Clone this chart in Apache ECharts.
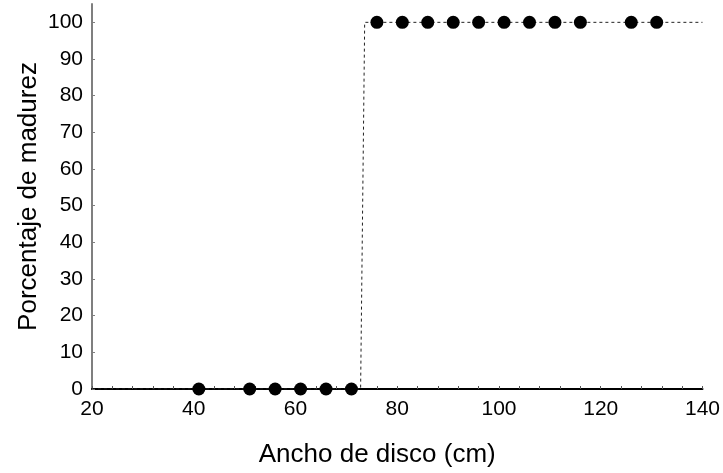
<!DOCTYPE html>
<html>
<head>
<meta charset="utf-8">
<script src="https://cdn.jsdelivr.net/npm/echarts@6/dist/echarts.min.js"></script>
<style>html,body{margin:0;padding:0;background:#fff}#c{width:723px;height:473px}</style>
</head>
<body>
<div id="c"></div>
<script>
// Data
var immatureX = [41, 51, 56, 61, 66, 71];
var immatureY = [0, 0, 0, 0, 0, 0];
var matureX = [76, 81, 86, 91, 96, 101, 106, 111, 116, 126, 131];
var matureY = [100, 100, 100, 100, 100, 100, 100, 100, 100, 100, 100];
var fitX = [20, 72.8, 73.6, 140];
var fitY = [0, 0, 100, 100];
var yTicks = [0, 10, 20, 30, 40, 50, 60, 70, 80, 90, 100];
var xTicks = [20, 40, 60, 80, 100, 120, 140];

function pairs(xs, ys) { return xs.map(function (x, i) { return [x, ys[i]]; }); }
var points = pairs(immatureX, immatureY).concat(pairs(matureX, matureY));
var fit = pairs(fitX, fitY);

var tickFont = "'Liberation Sans Narrow','Arial Narrow','Liberation Sans',Arial,sans-serif";
var titleFont = "'Liberation Sans',Arial,sans-serif";

var chart = echarts.init(document.getElementById('c'), null, { renderer: 'canvas' });
chart.setOption({
  animation: false,
  backgroundColor: '#fff',
  grid: { left: 92, right: 18, top: 4, bottom: 82, containLabel: false },
  xAxis: {
    type: 'value', min: xTicks[0], max: xTicks[xTicks.length - 1], interval: 20,
    name: 'Ancho de disco (cm)', nameLocation: 'middle', nameGap: 53,
    nameTextStyle: { fontFamily: titleFont, fontSize: 26, color: '#000', padding: [0, 40, 0, 0] },
    axisLine: { show: true, onZero: false, lineStyle: { color: '#000', width: 2 } },
    axisTick: { show: true, inside: true, length: 3, lineStyle: { color: '#555', width: 1 } },
    minorTick: { show: true, splitNumber: 5, length: 3, lineStyle: { color: '#555', width: 1 } },
    axisLabel: { fontFamily: tickFont, fontSize: 21, color: '#000', margin: 10 },
    splitLine: { show: false }
  },
  yAxis: {
    type: 'value', min: 0, max: 105,
    name: 'Porcentaje de madurez', nameLocation: 'middle', nameGap: 50, nameMoveOverlap: false,
    nameTextStyle: { fontFamily: titleFont, fontSize: 26, color: '#000' },
    axisLine: { show: true, onZero: false, lineStyle: { color: '#7f7f7f', width: 2 } },
    axisTick: { show: true, inside: true, length: 3, customValues: yTicks, lineStyle: { color: '#7f7f7f', width: 1 } },
    axisLabel: { fontFamily: tickFont, fontSize: 21, color: '#000', margin: 9, customValues: yTicks },
    splitLine: { show: false }
  },
  series: [
    {
      type: 'line', data: fit, symbol: 'none', z: 2,
      lineStyle: { color: '#222', width: 1, type: [3, 3] }
    },
    {
      type: 'scatter', data: points, symbol: 'circle', symbolSize: 13, z: 3,
      itemStyle: { color: '#000', opacity: 1 }
    }
  ]
});
</script>
</body>
</html>
